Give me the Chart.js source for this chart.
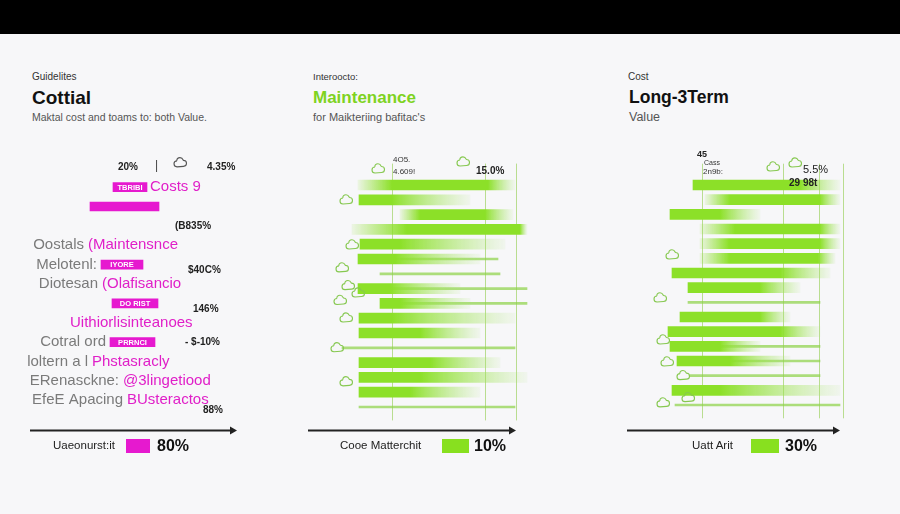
<!DOCTYPE html>
<html>
<head>
<meta charset="utf-8">
<script src="https://cdn.jsdelivr.net/npm/chart.js@4.4.0/dist/chart.umd.min.js"></script>
<style>
body{margin:0;width:900px;height:514px;background:#f7f7f9;position:relative;overflow:hidden;font-family:"Liberation Sans",Arial,sans-serif}
#band{position:absolute;left:0;top:0;width:900px;height:34px;background:#000}
.t{position:absolute;white-space:nowrap;line-height:1}
.box{position:absolute;width:24px;height:14px}
canvas{position:absolute}
</style>
</head>
<body>
<div id="band"></div>

<div class="t" style="left:32px;top:72px;font-size:10px;color:#333">Guidelites</div>
<div class="t" style="left:32px;top:88px;font-size:19px;font-weight:bold;color:#111">Cottial</div>
<div class="t" style="left:32px;top:112px;font-size:10.5px;color:#555">Maktal cost and toams to: both Value.</div>

<div class="t" style="left:313px;top:72px;font-size:9.5px;color:#333">Interoocto:</div>
<div class="t" style="left:313px;top:89px;font-size:17px;font-weight:bold;color:#7ed321">Maintenance</div>
<div class="t" style="left:313px;top:112px;font-size:11px;color:#555">for Maikteriing bafitac's</div>

<div class="t" style="left:628px;top:72px;font-size:10px;color:#333">Cost</div>
<div class="t" style="left:629px;top:89px;font-size:17.5px;font-weight:bold;color:#111">Long-3Term</div>
<div class="t" style="left:629px;top:111px;font-size:12.5px;color:#555">Value</div>

<canvas id="c1" width="240" height="290" style="left:20px;top:150px"></canvas>
<canvas id="c2" width="240" height="290" style="left:300px;top:150px"></canvas>
<canvas id="c3" width="240" height="290" style="left:620px;top:150px"></canvas>

<div class="t" style="left:53px;top:440px;font-size:11.5px;color:#222">Uaeonurst:it</div>
<div class="box" style="left:126px;top:439px;background:#e619cf"></div>
<div class="t" style="left:157px;top:438px;font-size:16px;font-weight:bold;color:#111">80%</div>

<div class="t" style="left:340px;top:440px;font-size:11.5px;color:#222">Cooe Matterchit</div>
<div class="box" style="left:442px;top:439px;width:27px;background:#88e01f"></div>
<div class="t" style="left:474px;top:438px;font-size:16px;font-weight:bold;color:#111">10%</div>

<div class="t" style="left:692px;top:440px;font-size:11.5px;color:#222">Uatt Arit</div>
<div class="box" style="left:751px;top:439px;width:28px;background:#88e01f"></div>
<div class="t" style="left:785px;top:438px;font-size:16px;font-weight:bold;color:#111">30%</div>

<script>
// ---- panel 1: magenta list ----
var p1Rows = ['r0','r1','r2','r3','r4','r5','r6','r7','r8','r9','r10','r11','r12'];
var p1BoxStart = [null, 46.5, 35, null, null, 40.5, null, 46, null, 45, null, null, null];
var p1BoxEnd   = [null, 63.5, 69.5, null, null, 61.5, null, 69, null, 67.5, null, null, null];
var p1BoxText  = ['', 'TBRIBI', '', '', '', 'IYORE', '', 'DO RIST', '', 'PRRNCI', '', '', ''];
var p1Names    = ['', '', '', '', 'Oostals', 'Melotenl:', 'Diotesan', '', '', 'Cotral ord', 'loltern a l', 'ERenasckne:', 'EfeE Apacing'];
var p1Pink     = ['', 'Costs 9', '', '', '(Maintensnce', '', '(Olafisancio', '', 'Uithiorlisinteanoes', '', 'Phstasracly', '@3lingetiood', 'BUsteractos'];
var p1Pct      = ['4.35%', '', '', '(B835%', '', '$40C%', '', '146%', '', '- $-10%', '', '', '88%'];

// ---- panel 2: maintenance bars (fade in / solid / fade out) ----
var p2Rows = ['a0','a1','a2','a3','a4','a5','a6','a7','a8','a9','a10','a11','a12','a13','a14','a15'];
var p2Start  = [29, 29.5, 50, 26, 30, 29, null, 29, 40, 29.5, 29.5, null, 29.5, 29.5, 29.5, null];
var p2SolidA = [46, 29.5, 60, 53.5, 30, 29, null, 29, 40, 29.5, 29.5, null, 29.5, 29.5, 29.5, null];
var p2SolidB = [94, 46, 92.5, 110, 50, 47.5, null, 45, 50, 46, 60, null, 65, 60, 55, null];
var p2End    = [107.5, 85, 106.5, 113.5, 102.5, 90, null, 80, 85, 107.5, 90, null, 100, 113.5, 90, null];
var p2LineA  = [null, null, null, null, null, 34, 40, 45, 50, null, null, 21, null, null, null, 29.5];
var p2LineB  = [null, null, null, null, null, 99, 100, 113.5, 113.5, null, null, 107.5, null, null, null, 107.5];

// ---- panel 3: long-term bars ----
var p3Rows = ['b0','b1','b2','b3','b4','b5','b6','b7','b8','b9','b10','b11','b12','b13','b14','b15'];
var p3Start  = [36.5, 42.5, 25, 40, 40, 40, 26, 34, null, 30, 24, 25, 28.5, null, 26, null];
var p3SolidA = [36.5, 55, 25, 57.5, 54.5, 55, 26, 34, null, 30, 24, 25, 28.5, null, 26, null];
var p3SolidB = [90, 100, 50, 100, 100, 99, 80, 70, null, 70, 80, 50, 55, null, 50, null];
var p3End    = [110, 110, 70, 110, 110, 107.5, 105, 90, null, 85, 100, 70, 85, null, 110, null];
var p3LineA  = [null, null, null, null, null, null, null, null, 34, null, null, 40, 55, 35, null, 27.5];
var p3LineB  = [null, null, null, null, null, null, null, null, 100, null, null, 100, 100, 100, null, 110];

// layout helpers (positions in scale units)
var p1PinkAt = [null, 65, null, null, 34, null, 41, null, 25, null, 36, 51.5, 53.5];
var p1PctAt  = [93.5, null, null, 77.5, null, 84, null, 86.5, null, 82.5, null, null, 91.5];

function pair(a, b) {
  return a.map(function (v, i) { return v == null ? null : [v, b[i]]; });
}

function fadeFill(starts, sa, sb, ends) {
  return function (c) {
    var chart = c.chart;
    if (!chart.chartArea || c.dataIndex == null) return '#88e01f';
    var i = c.dataIndex;
    if (starts[i] == null) return '#88e01f';
    var xs = chart.scales.x;
    var x0 = xs.getPixelForValue(starts[i]), x3 = xs.getPixelForValue(ends[i]);
    var w = x3 - x0;
    var g = chart.ctx.createLinearGradient(x0, 0, x3, 0);
    var f1 = (xs.getPixelForValue(sa[i]) - x0) / w;
    var f2 = (xs.getPixelForValue(sb[i]) - x0) / w;
    g.addColorStop(0, f1 > 0.001 ? 'rgba(140,224,40,0.1)' : 'rgba(140,224,40,1)');
    g.addColorStop(f1, 'rgba(140,224,40,1)');
    g.addColorStop(f2, 'rgba(140,224,40,1)');
    g.addColorStop(1, 'rgba(170,230,110,0.08)');
    return g;
  };
}

function cloud(ctx, x, y, col) {
  ctx.save();
  ctx.strokeStyle = col;
  ctx.lineWidth = 1.1;
  ctx.beginPath();
  ctx.arc(x - 3, y + 1, 3, Math.PI * 0.5, Math.PI * 1.5);
  ctx.arc(x, y - 2, 3.2, Math.PI, Math.PI * 1.9);
  ctx.arc(x + 3.5, y + 0.5, 3, Math.PI * 1.5, Math.PI * 0.5);
  ctx.closePath();
  ctx.stroke();
  ctx.restore();
}

var deco = {
  id: 'deco',
  beforeDatasetsDraw: function (chart, args, o) {
    var ctx = chart.ctx, xs = chart.scales.x, a = chart.chartArea;
    ctx.save();
    ctx.strokeStyle = o.gridColor || '#b9dd90';
    ctx.lineWidth = 1;
    (o.grid || []).forEach(function (v) {
      var px = Math.round(xs.getPixelForValue(v)) + 0.5;
      ctx.beginPath();
      ctx.moveTo(px, a.top - 14);
      ctx.lineTo(px, a.bottom + 6);
      ctx.stroke();
    });
    ctx.restore();
  },
  afterDatasetsDraw: function (chart, args, o) {
    var ctx = chart.ctx, xs = chart.scales.x, ys = chart.scales.y;
    ctx.save();
    // axis arrow
    var ay = chart.height - 10 + 0.5;
    var ax0 = xs.getPixelForValue(o.axis[0]), ax1 = xs.getPixelForValue(o.axis[1]);
    ctx.strokeStyle = '#222';
    ctx.fillStyle = '#222';
    ctx.lineWidth = 1.8;
    ctx.beginPath();
    ctx.moveTo(ax0, ay);
    ctx.lineTo(ax1 - 4, ay);
    ctx.stroke();
    ctx.beginPath();
    ctx.moveTo(ax1, ay);
    ctx.lineTo(ax1 - 7, ay - 4);
    ctx.lineTo(ax1 - 7, ay + 4);
    ctx.closePath();
    ctx.fill();
    // clouds
    (o.clouds || []).forEach(function (c) {
      cloud(ctx, xs.getPixelForValue(c[0]), ys.getPixelForValue(c[1]), o.cloudColor);
    });
    // free texts
    (o.texts || []).forEach(function (t) {
      ctx.font = t.font;
      ctx.fillStyle = t.color || '#222';
      ctx.textAlign = t.align || 'left';
      ctx.textBaseline = 'middle';
      ctx.fillText(t.text, xs.getPixelForValue(t.x), ys.getPixelForValue(t.row));
    });
    ctx.restore();
  }
};

var p1Labels = {
  id: 'p1Labels',
  afterDatasetsDraw: function (chart) {
    var ctx = chart.ctx, xs = chart.scales.x, ys = chart.scales.y;
    ctx.save();
    ctx.textBaseline = 'middle';
    p1Rows.forEach(function (r, i) {
      var y = ys.getPixelForValue(i);
      var firstPink = p1BoxStart[i] != null ? p1BoxStart[i] : p1PinkAt[i];
      if (p1BoxText[i]) {
        ctx.font = 'bold 7.5px "Liberation Sans", Arial, sans-serif';
        ctx.fillStyle = '#fff';
        ctx.textAlign = 'center';
        ctx.fillText(p1BoxText[i], xs.getPixelForValue((p1BoxStart[i] + p1BoxEnd[i]) / 2), y + 0.5);
      }
      if (p1Pink[i]) {
        ctx.font = '15px "Liberation Sans", Arial, sans-serif';
        ctx.fillStyle = '#e01fc8';
        ctx.textAlign = 'left';
        ctx.fillText(p1Pink[i], xs.getPixelForValue(p1PinkAt[i]), y);
      }
      if (p1Names[i]) {
        ctx.font = '15px "Liberation Sans", Arial, sans-serif';
        ctx.fillStyle = '#7a7a7a';
        ctx.textAlign = 'right';
        ctx.fillText(p1Names[i], xs.getPixelForValue(firstPink) - 4, y);
      }
      if (p1Pct[i]) {
        ctx.font = 'bold 10px "Liberation Sans", Arial, sans-serif';
        ctx.fillStyle = '#222';
        ctx.textAlign = 'left';
        var dy = i === 12 ? 10 : (i === 5 || i === 7) ? 6 : 0;
        ctx.fillText(p1Pct[i], xs.getPixelForValue(p1PctAt[i]), y + dy);
      }
    });
    ctx.restore();
  }
};

function baseOptions(pad, plug) {
  return {
    indexAxis: 'y',
    responsive: false,
    animation: false,
    layout: { padding: pad },
    scales: {
      x: { type: 'linear', min: 0, max: 120, display: false },
      y: { display: false }
    },
    plugins: { legend: { display: false }, tooltip: { enabled: false }, deco: plug }
  };
}

var font10 = 'bold 10px "Liberation Sans", Arial, sans-serif';
var font8 = '8px "Liberation Sans", Arial, sans-serif';

new Chart(document.getElementById('c1'), {
  type: 'bar',
  data: {
    labels: p1Rows,
    datasets: [{
      data: pair(p1BoxStart, p1BoxEnd),
      backgroundColor: '#e619cf',
      barThickness: 9,
      grouped: false
    }]
  },
  options: baseOptions({ top: 8, bottom: 30, left: 0, right: 0 }, {
    axis: [5, 108.5],
    cloudColor: '#555',
    clouds: [[80, -0.25]],
    texts: [
      { x: 49, row: 0, text: '20%', font: font10 },
      { x: 67.5, row: -0.1, text: '|', font: '12px "Liberation Sans", Arial, sans-serif', color: '#444' }
    ]
  }),
  plugins: [deco, p1Labels]
});

new Chart(document.getElementById('c2'), {
  type: 'bar',
  data: {
    labels: p2Rows,
    datasets: [{
      data: pair(p2Start, p2End),
      backgroundColor: fadeFill(p2Start, p2SolidA, p2SolidB, p2End),
      barThickness: 10,
      grouped: false
    }, {
      data: pair(p2LineA, p2LineB),
      backgroundColor: 'rgba(140,210,70,0.7)',
      barThickness: 2,
      grouped: false
    }]
  },
  options: baseOptions({ top: 27.6, bottom: 25.6, left: 0, right: 0 }, {
    axis: [4, 108],
    grid: [46, 92.5, 108],
    cloudColor: '#86c850',
    clouds: [[39, -1.08], [81.5, -1.55], [23, 1.01], [26, 4.05], [21, 5.6], [24, 6.8], [29, 7.3], [20, 7.8], [23, 8.99], [18.5, 11], [23, 13.3]],
    texts: [
      { x: 46.5, row: -1.7, text: '4O5.', font: font8, color: '#333' },
      { x: 46.5, row: -0.9, text: '4.609!', font: font8, color: '#333' },
      { x: 88, row: -0.95, text: '15.0%', font: font10 }
    ]
  }),
  plugins: [deco]
});

new Chart(document.getElementById('c3'), {
  type: 'bar',
  data: {
    labels: p3Rows,
    datasets: [{
      data: pair(p3Start, p3End),
      backgroundColor: fadeFill(p3Start, p3SolidA, p3SolidB, p3End),
      barThickness: 10,
      grouped: false
    }, {
      data: pair(p3LineA, p3LineB),
      backgroundColor: 'rgba(140,210,70,0.7)',
      barThickness: 2,
      grouped: false
    }]
  },
  options: baseOptions({ top: 27.7, bottom: 27.7, left: 0, right: 0 }, {
    axis: [3.5, 110],
    grid: [41, 81.5, 99.5, 111.5],
    cloudColor: '#86c850',
    clouds: [[76.5, -1.23], [87.5, -1.5], [26, 4.77], [20, 7.7], [21.5, 10.57], [23.5, 12.07], [31.5, 13], [21.5, 14.86], [34, 14.5]],
    texts: [
      { x: 38.5, row: -2.05, text: '45', font: 'bold 9px "Liberation Sans", Arial, sans-serif' },
      { x: 42, row: -1.5, text: 'Cass', font: '7px "Liberation Sans", Arial, sans-serif', color: '#333' },
      { x: 41.5, row: -0.9, text: '2n9b:', font: '8px "Liberation Sans", Arial, sans-serif', color: '#333' },
      { x: 91.5, row: -1.02, text: '5.5%', font: '11px "Liberation Sans", Arial, sans-serif' },
      { x: 84.5, row: -0.14, text: '29 98t', font: font10 }
    ]
  }),
  plugins: [deco]
});
</script>
</body>
</html>
